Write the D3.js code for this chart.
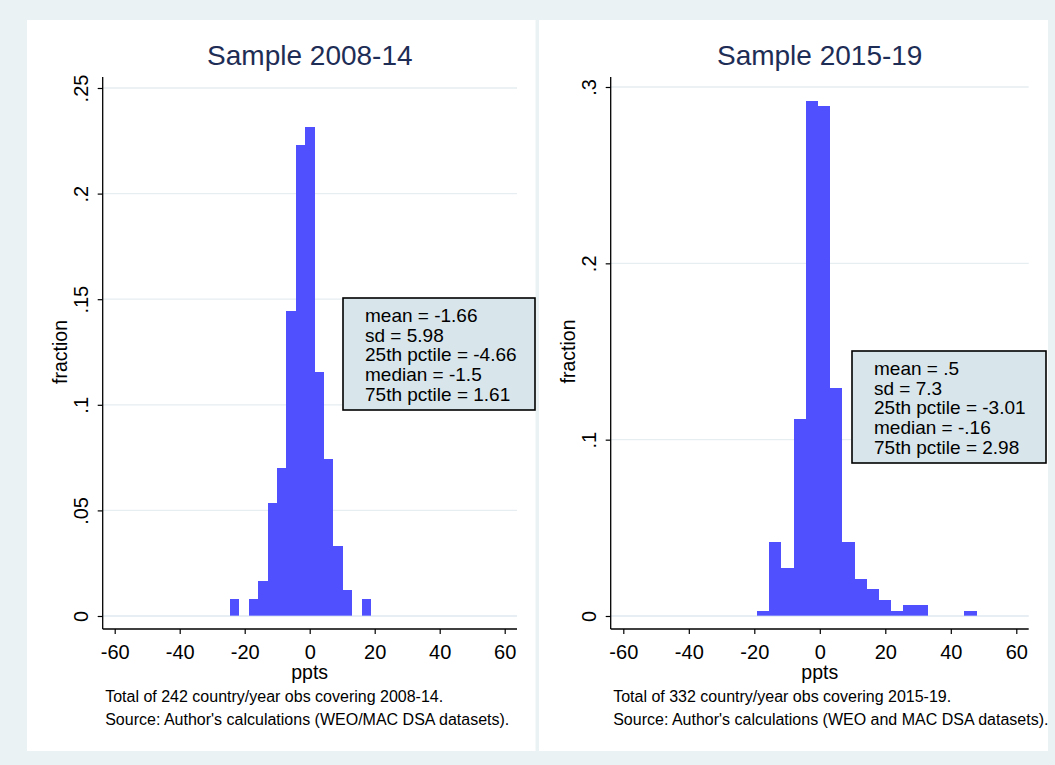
<!DOCTYPE html>
<html><head><meta charset="utf-8">
<script src="https://cdn.jsdelivr.net/npm/d3@7"></script>
<style>
body{margin:0;background:#eaf2f3;}
svg{display:block;font-family:"Liberation Sans",Arial,Helvetica,sans-serif;}
</style>
</head><body>
<svg id="chart" width="1055" height="765"></svg>
<script>
// ---------- data ----------
const titles = ["Sample 2008-14", "Sample 2015-19"];
const xLabel = "ppts";
const yLabel = "fraction";

const leftBinStart = -24.5, leftBinWidth = 2.893;
const leftCounts = [2, 0, 2, 4, 13, 17, 35, 54, 56, 28, 18, 8, 3, 0, 2];
const leftTotal = 242;

const rightBinStart = -19.2, rightBinWidth = 3.728;
const rightCounts = [1, 14, 9, 37, 97, 96, 43, 14, 7, 5, 3, 1, 2, 2, 0, 0, 0, 1];
const rightTotal = 332;

const xTicks = [-60, -40, -20, 0, 20, 40, 60];
const xTickLabels = ["-60", "-40", "-20", "0", "20", "40", "60"];
const leftYTicks = [0, 0.05, 0.1, 0.15, 0.2, 0.25];
const leftYLabels = ["0", ".05", ".1", ".15", ".2", ".25"];
const rightYTicks = [0, 0.1, 0.2, 0.3];
const rightYLabels = ["0", ".1", ".2", ".3"];

const leftStats = ["mean = -1.66", "sd = 5.98", "25th pctile = -4.66", "median = -1.5", "75th pctile = 1.61"];
const rightStats = ["mean = .5", "sd = 7.3", "25th pctile = -3.01", "median = -.16", "75th pctile = 2.98"];

const leftNotes = ["Total of 242 country/year obs covering 2008-14.", "Source: Author's calculations (WEO/MAC DSA datasets)."];
const rightNotes = ["Total of 332 country/year obs covering 2015-19.", "Source: Author's calculations (WEO and MAC DSA datasets)."];

// ---------- layout ----------
const panels = [
  { title: titles[0], binStart: leftBinStart, binWidth: leftBinWidth, counts: leftCounts, total: leftTotal,
    yTicks: leftYTicks, yLabels: leftYLabels, yMax: 0.25, stats: leftStats, notes: leftNotes,
    bg: [27, 20, 508.5, 731], axisX: 102.7, xRange: [114.7, 504.7], axisEnd: 517,
    yRange: [616, 88], axisY: 629, axisTop: 77,
    box: [343, 298, 192, 112] },
  { title: titles[1], binStart: rightBinStart, binWidth: rightBinWidth, counts: rightCounts, total: rightTotal,
    yTicks: rightYTicks, yLabels: rightYLabels, yMax: 0.3, stats: rightStats, notes: rightNotes,
    bg: [539, 20, 509, 731], axisX: 610.7, xRange: [623.3, 1016.3], axisEnd: 1028.7,
    yRange: [616, 87], axisY: 629, axisTop: 77,
    box: [852, 351, 194, 112] }
];

const svg = d3.select("#chart");
svg.append("rect").attr("width", 1055).attr("height", 765).attr("fill", "#eaf2f3");

const barColor = "#5050ff";
const gridColor = "#e6eef1";
const titleColor = "#1e2d55";

panels.forEach(p => {
  const g = svg.append("g");
  g.append("rect").attr("x", p.bg[0]).attr("y", p.bg[1]).attr("width", p.bg[2]).attr("height", p.bg[3])
    .attr("fill", "#ffffff");

  const x = d3.scaleLinear().domain([-60, 60]).range(p.xRange);
  const y = d3.scaleLinear().domain([0, p.yMax]).range(p.yRange);

  // gridlines
  g.selectAll("line.grid").data(p.yTicks).join("line").attr("class", "grid")
    .attr("x1", p.axisX).attr("x2", p.axisEnd)
    .attr("y1", d => y(d)).attr("y2", d => y(d))
    .attr("stroke", gridColor).attr("stroke-width", 1.3);

  // bars
  const bins = p.counts.map((c, i) => ({
    x0: p.binStart + i * p.binWidth,
    x1: p.binStart + (i + 1) * p.binWidth,
    f: c / p.total
  })).filter(b => b.f > 0);

  g.selectAll("rect.bar").data(bins).join("rect").attr("class", "bar")
    .attr("x", d => x(d.x0)).attr("width", d => x(d.x1) - x(d.x0))
    .attr("y", d => y(d.f)).attr("height", d => y(0) - y(d.f))
    .attr("fill", barColor).attr("shape-rendering", "crispEdges");

  // zero gridline showing faintly across bar bottoms
  g.append("line").attr("x1", p.axisX).attr("x2", p.axisEnd)
    .attr("y1", y(0)).attr("y2", y(0)).attr("stroke", "#dfe8f6").attr("stroke-width", 1).attr("opacity", 0.7);

  // y axis
  const yAxis = d3.axisLeft(y).tickValues(p.yTicks)
    .tickFormat((d, i) => p.yLabels[i]).tickSize(5).tickSizeOuter(0);
  const ya = g.append("g").attr("transform", `translate(${p.axisX},0)`).call(yAxis);
  ya.select(".domain").remove();
  ya.selectAll(".tick line").attr("stroke", "#000").attr("stroke-width", 1.2);
  ya.selectAll(".tick text")
    .attr("transform", "rotate(-90)").attr("x", 0).attr("y", -15).attr("dy", 0)
    .attr("text-anchor", "middle").attr("fill", "#000")
    .style("font-size", "20px").style("font-family", "'Liberation Sans', Arial, sans-serif");
  g.append("line").attr("x1", p.axisX).attr("x2", p.axisX).attr("y1", p.axisTop).attr("y2", p.axisY)
    .attr("stroke", "#000").attr("stroke-width", 1.3);

  // x axis
  const xAxis = d3.axisBottom(x).tickValues(xTicks)
    .tickFormat((d, i) => xTickLabels[i]).tickSize(5).tickSizeOuter(0);
  const xa = g.append("g").attr("transform", `translate(0,${p.axisY})`).call(xAxis);
  xa.select(".domain").remove();
  xa.selectAll(".tick line").attr("stroke", "#000").attr("stroke-width", 1.2);
  xa.selectAll(".tick text").attr("y", 30).attr("dy", 0).attr("fill", "#000")
    .style("font-size", "20px").style("font-family", "'Liberation Sans', Arial, sans-serif");
  g.append("line").attr("x1", p.axisX).attr("x2", p.axisEnd).attr("y1", p.axisY).attr("y2", p.axisY)
    .attr("stroke", "#000").attr("stroke-width", 1.3);

  // axis titles
  const cx = (p.axisX + p.axisEnd) / 2;
  g.append("text").attr("x", x(0)).attr("y", 679).attr("text-anchor", "middle")
    .style("font-size", "19.5px").attr("fill", "#000").text(xLabel);
  g.append("text").attr("transform", `translate(${p.axisX - 36},${y(p.yMax / 2)}) rotate(-90)`)
    .attr("text-anchor", "middle").style("font-size", "19.5px").attr("fill", "#000").text(yLabel);

  // title
  g.append("text").attr("x", cx).attr("y", 65).attr("text-anchor", "middle")
    .style("font-size", "28px").attr("fill", titleColor).text(p.title);

  // stats box
  const [bx, by, bw, bh] = p.box;
  g.append("rect").attr("x", bx).attr("y", by).attr("width", bw).attr("height", bh)
    .attr("fill", "#d8e5eb").attr("stroke", "#000").attr("stroke-width", 1.6);
  g.selectAll("text.stat").data(p.stats).join("text").attr("class", "stat")
    .attr("x", bx + 22).attr("y", (d, i) => by + 24 + i * 19.7)
    .style("font-size", "19px").attr("fill", "#000").text(d => d);

  // notes
  g.selectAll("text.note").data(p.notes).join("text").attr("class", "note")
    .attr("x", p.axisX + 2.5).attr("y", (d, i) => 702 + i * 23)
    .style("font-size", "16px").attr("fill", "#000").text(d => d);
});
</script>
</body></html>
